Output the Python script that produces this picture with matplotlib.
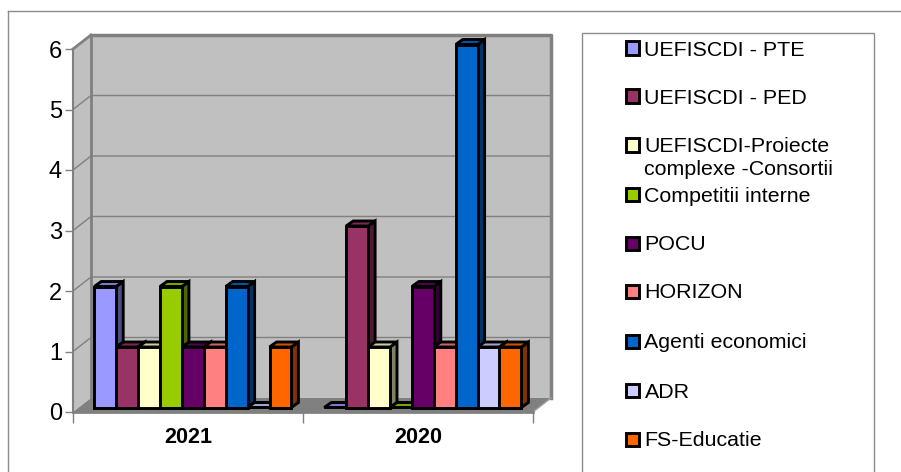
import matplotlib
matplotlib.use("Agg")
import matplotlib.pyplot as plt
from matplotlib.patches import Polygon, Rectangle
from matplotlib.lines import Line2D

plt.rcParams["font.family"] = ["Liberation Sans", "DejaVu Sans"]

years = ["2021", "2020"]
series_names = ["UEFISCDI - PTE", "UEFISCDI - PED", "UEFISCDI-Proiecte\ncomplexe -Consortii",
                "Competitii interne", "POCU", "HORIZON", "Agenti economici", "ADR", "FS-Educatie"]
values_2021 = [2, 1, 1, 2, 1, 1, 2, 0, 1]
values_2020 = [0, 3, 1, 0, 2, 1, 6, 1, 1]
front_colors = ["#9999ff", "#993366", "#ffffcc", "#99cc00", "#660066", "#ff8080", "#0066cc", "#ccccff", "#ff6600"]
top_colors = ["#7a7acc", "#7a2952", "#ccccA3", "#7aa300", "#520052", "#cc6666", "#0052a3", "#a3a3cc", "#cc5200"]
side_colors = ["#4d4d80", "#4d1a33", "#808066", "#4d6600", "#330033", "#804040", "#003366", "#666680", "#803300"]
yticks = [0, 1, 2, 3, 4, 5, 6]

W, H = 901, 472
fig = plt.figure(figsize=(W / 100, H / 100), dpi=100)
# axes = front plane of the 3d box
ax = fig.add_axes([73 / W, 1 - 412 / H, 460 / W, 363 / H])
ax.set_xlim(0, 2)
ax.set_ylim(0, 6)
ax.patch.set_visible(False)
for s in ax.spines.values():
    s.set_visible(False)

# pixel sizes turned into data units
px_x = 2 / 460
px_y = 6 / 363
dx = 18 * px_x
dy = 14 * px_y

def poly(pts, fc, ec="none", lw=0, z=1):
    ax.add_patch(Polygon(pts, closed=True, fc=fc, ec=ec, lw=lw, zorder=z, clip_on=False, joinstyle="miter"))

# walls and floor
poly([(0, 0), (dx, dy), (dx, 6 + dy), (0, 6)], "#c0c0c0", z=1)
poly([(dx, dy), (2 + dx, dy), (2 + dx, 6 + dy), (dx, 6 + dy)], "#c0c0c0", z=1)
poly([(0, 0), (2, 0), (2 + dx, dy), (dx, dy)], "#808080", z=1)
for v in yticks[1:]:
    ax.plot([0, dx, 2 + dx], [v, v + dy, v + dy], color="#808080", lw=1, zorder=2, clip_on=False)
ax.plot([dx, dx], [dy, 6 + dy], color="#808080", lw=2, zorder=2, clip_on=False)
ax.plot([dx, 2 + dx, 2 + dx], [6 + dy, 6 + dy, dy], color="#808080", lw=2.5, zorder=2, clip_on=False)
ax.plot([0, 0], [0, 6], color="#808080", lw=1.5, zorder=2, clip_on=False)
ax.plot([0, dx], [6, 6 + dy], color="#808080", lw=2, zorder=2, clip_on=False)
ax.plot([2, 2 + dx], [0, dy], color="#a0a0a0", lw=1, zorder=2, clip_on=False)
ax.plot([0, 2], [0, 0], color="#808080", lw=2, zorder=2, clip_on=False)

# bars
bar_w = 21.9 * px_x
bar_dx = 7 * px_x
bar_dy = 5 * px_y
base_y = 4.5 * px_y
start = 21.3 * px_x
z = 5
for g, vals in enumerate([values_2021, values_2020]):
    for i, v in enumerate(vals):
        x0 = g + start + i * bar_w
        x1 = x0 + bar_w
        y0 = base_y
        y1 = base_y + v
        z += 1
        poly([(x1, y0), (x1 + bar_dx, y0 + bar_dy), (x1 + bar_dx, y1 + bar_dy), (x1, y1)], side_colors[i], "black", 2.1, z)
        poly([(x0, y1), (x1, y1), (x1 + bar_dx, y1 + bar_dy), (x0 + bar_dx, y1 + bar_dy)], top_colors[i], "black", 2.1, z)
        if v > 0:
            poly([(x0, y0), (x1, y0), (x1, y1), (x0, y1)], front_colors[i], "black", 2.1, z)

ax.set_yticks(yticks)
ax.set_xticks([0, 1, 2])
ax.set_xticklabels([])
ax.set_xticks([0.5, 1.5], labels=years, minor=True)
ax.tick_params(axis="y", length=6, width=1, color="#808080", labelsize=17, pad=2)
ax.tick_params(axis="x", which="major", length=8, width=1, color="#808080")
ax.tick_params(axis="x", which="minor", length=0, labelsize=15.5, pad=11)
for t in ax.get_xticklabels(minor=True):
    t.set_fontweight("bold")

# outer frame lines, legend box
fig.add_artist(Line2D([7.5 / W, 1], [1 - 10.5 / H] * 2, color="#8c8c8c", lw=1))
fig.add_artist(Line2D([7.5 / W, 7.5 / W], [0, 1 - 10.5 / H], color="#8c8c8c", lw=1))
fig.add_artist(Rectangle((581.5 / W, 1 - 480 / H), 292 / W, 447 / H, fc="white", ec="#8c8c8c", lw=1,
                         transform=fig.transFigure))
legend_y = [48, 96, 145, 195, 243, 291, 341, 390, 439]
for name, fc, ly in zip(series_names, front_colors, legend_y):
    fig.add_artist(Rectangle((626 / W, 1 - (ly + 6.5) / H), 13 / W, 13 / H, fc=fc, ec="black", lw=2.1,
                             transform=fig.transFigure))
    # two-line entry is anchored on the first line
    if "\n" in name:
        fig.text(644.5 / W, 1 - (ly - 8) / H, name, fontsize=15.4, va="top", color="black", linespacing=1.25)
    else:
        fig.text(644.5 / W, 1 - (ly + 7.5) / H, name, fontsize=15.4, va="baseline", color="black")

fig.savefig("out.png", dpi=100)
